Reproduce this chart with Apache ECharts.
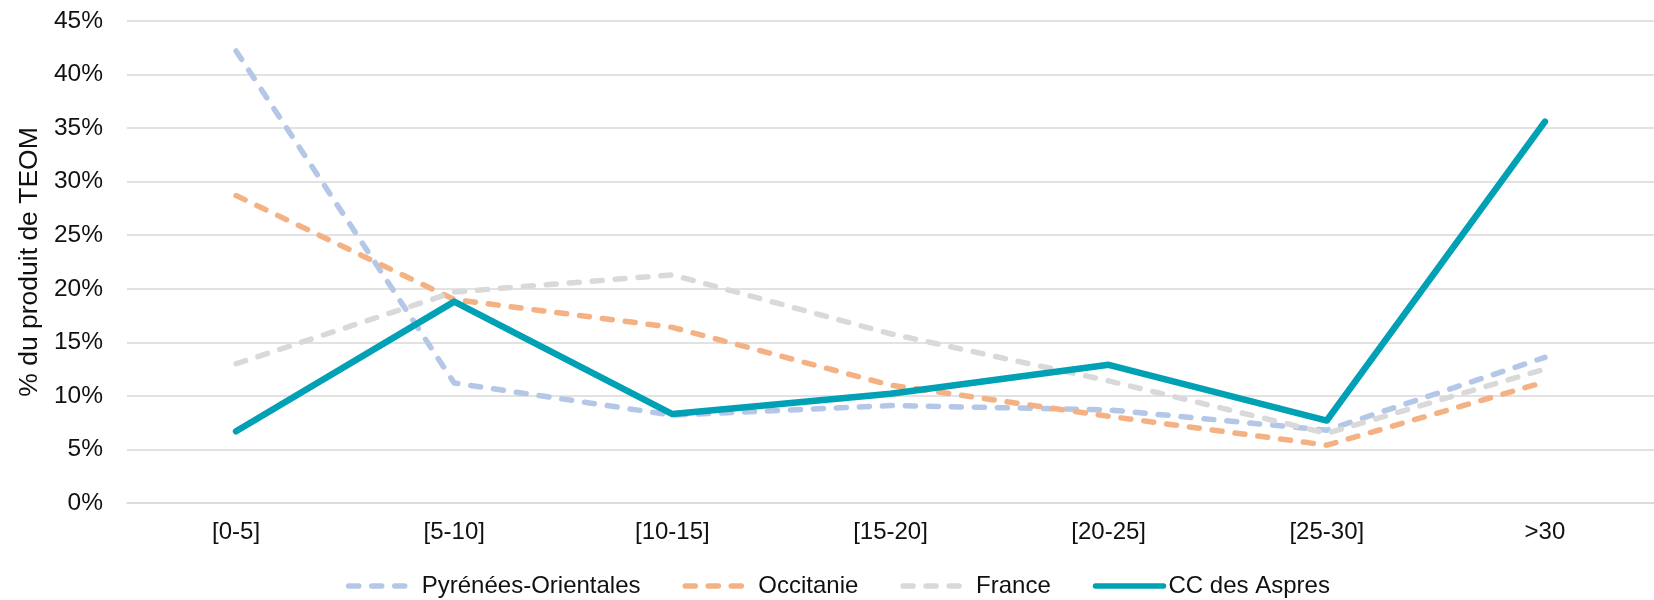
<!DOCTYPE html>
<html lang="fr">
<head>
<meta charset="utf-8">
<title>Répartition du produit de TEOM par tranche de taux</title>
<script src="https://cdn.jsdelivr.net/npm/echarts@6/dist/echarts.min.js"></script>
<style>
  html, body { margin: 0; padding: 0; background: #ffffff; }
  #chart { width: 1654px; height: 600px; }
</style>
</head>
<body>
<div id="chart"></div>
<script>
// Tranches de taux de TEOM (en %)
const categories = ['[0-5]', '[5-10]', '[10-15]', '[15-20]', '[20-25]', '[25-30]', '>30'];

// Part du produit de TEOM par tranche (en %)
const pyreneesOrientales = [42.2, 11.2, 8.2, 9.1, 8.7, 6.8, 13.6];
const occitanie          = [28.7, 19.0, 16.4, 11.0, 8.1, 5.4, 11.3];
const france             = [13.0, 19.7, 21.3, 15.8, 11.4, 6.5, 12.5];
const ccDesAspres        = [6.7, 18.8, 8.3, 10.2, 12.9, 7.7, 35.6];

const seriesNames = ['Pyrénées-Orientales', 'Occitanie', 'France', 'CC des Aspres'];

const FONT = '"Liberation Sans", Arial, sans-serif';
const TEXT = '#111111';
const GRID_LINE = '#d9d9d9';

function dashedLine(name, data, color) {
  return {
    name: name,
    type: 'line',
    data: data,
    symbol: 'none',
    showSymbol: false,
    silent: true,
    lineStyle: {
      color: color,
      width: 5.5,
      type: [10, 13],
      cap: 'round',
      join: 'round'
    },
    itemStyle: { color: color }
  };
}

const chart = echarts.init(document.getElementById('chart'), null, { renderer: 'canvas' });

chart.setOption({
  animation: false,
  backgroundColor: '#ffffff',
  textStyle: { fontFamily: FONT, color: TEXT },
  grid: {
    left: 127,
    right: -9,
    top: 21,
    bottom: 97,
    containLabel: false
  },
  legend: {
    left: 341,
    top: 569,
    itemWidth: 68,
    itemHeight: 14,
    itemGap: 42,
    lineStyle: { width: 5.5 },
    itemStyle: { opacity: 0 },
    textStyle: {
      fontFamily: FONT,
      fontSize: 24,
      color: TEXT
    },
    data: seriesNames
  },
  xAxis: {
    type: 'category',
    data: categories,
    boundaryGap: true,
    axisLine: { show: true, lineStyle: { color: GRID_LINE, width: 1.5 } },
    axisTick: { show: false },
    axisLabel: {
      fontFamily: FONT,
      fontSize: 24,
      color: TEXT,
      margin: 17,
      interval: 0
    },
    splitLine: { show: false }
  },
  yAxis: {
    type: 'value',
    min: 0,
    max: 45,
    interval: 5,
    name: '% du produit de TEOM',
    nameLocation: 'middle',
    nameRotate: 90,
    nameGap: 81,
    nameTextStyle: {
      fontFamily: FONT,
      fontSize: 26.5,
      color: TEXT
    },
    axisLine: { show: false },
    axisTick: { show: false },
    axisLabel: {
      fontFamily: FONT,
      fontSize: 24.5,
      color: TEXT,
      margin: 24,
      formatter: '{value}%'
    },
    splitLine: { lineStyle: { color: GRID_LINE, width: 1.5 } }
  },
  series: [
    dashedLine(seriesNames[0], pyreneesOrientales, '#b4c7e7'),
    dashedLine(seriesNames[1], occitanie, '#f4b183'),
    dashedLine(seriesNames[2], france, '#d9d9d9'),
    {
      name: seriesNames[3],
      type: 'line',
      data: ccDesAspres,
      symbol: 'none',
      showSymbol: false,
      silent: true,
      lineStyle: {
        color: '#00a0b5',
        width: 6.5,
        cap: 'round',
        join: 'round'
      },
      itemStyle: { color: '#00a0b5' }
    }
  ]
});
</script>
</body>
</html>
